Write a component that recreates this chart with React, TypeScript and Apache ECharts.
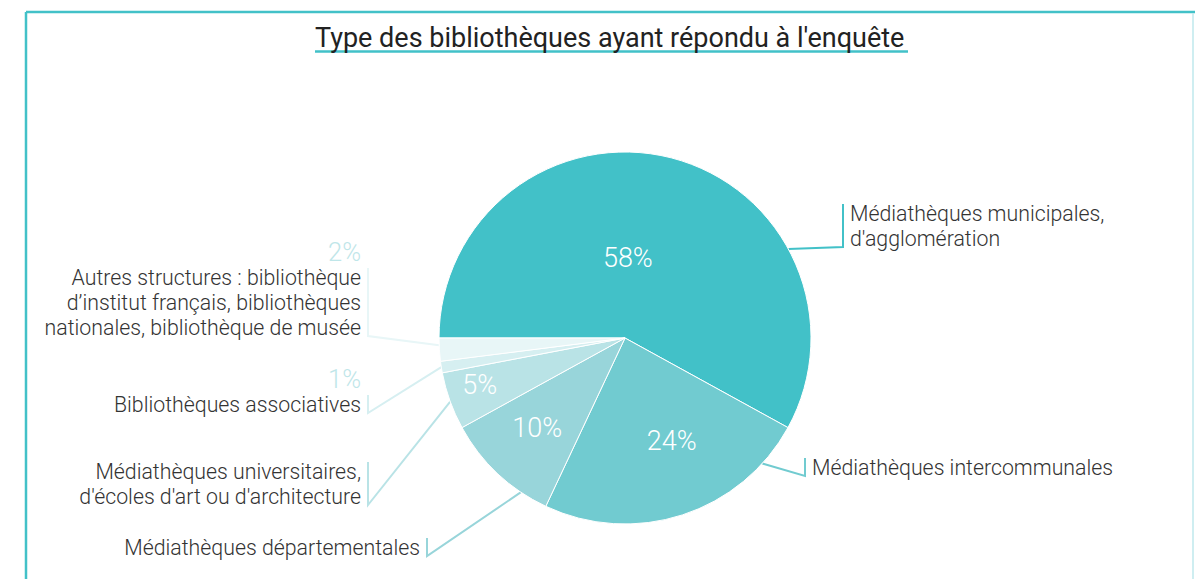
import React, { useEffect, useRef } from "react";
import * as echarts from "echarts";

// ---- data ----
const TITLE = "Type des bibliothèques ayant répondu à l'enquête";
const categories = [
  "Médiathèques municipales,\nd'agglomération",
  "Médiathèques intercommunales",
  "Médiathèques départementales",
  "Médiathèques universitaires,\nd'écoles d'art ou d'architecture",
  "Bibliothèques associatives",
  "Autres structures : bibliothèque\nd’institut français, bibliothèques\nnationales, bibliothèque de musée",
];
const values = [58, 24, 10, 5, 1, 2];

// ---- styles / layout ----
const COLORS = ["#42c1c8", "#71cbd0", "#98d5da", "#b9e3e6", "#d6eff1", "#e8f6f7"];
const CX = 625;
const CY = 338;
const R = 186;
const PCT_LINE = 26;
// label anchor: x (text edge), y (text top), side of the pie
const LABEL_LAYOUT = [
  { x: 850, y: 201, side: "right" },
  { x: 812, y: 455, side: "right" },
  { x: 420, y: 535, side: "left" },
  { x: 361, y: 459, side: "left" },
  { x: 361, y: 366, side: "left" },
  { x: 361, y: 239, side: "left" },
];
// where each leader line leaves the pie (degrees, math convention)
const ANCHOR_DEG = [28.6, -42.4, -124, -160, -171, -177.8];
// nudges for the inside percentage labels
const INNER_OFFSETS = [
  [-21, 13],
  [17, 12],
  [-22, 20],
  [-55, 14],
  [0, 0],
  [0, 0],
];
const FONT = "Roboto";

export default function App() {
  const ref = useRef<HTMLDivElement>(null);
  useEffect(() => {
    document.body.style.margin = "0";
    const chart = echarts.init(ref.current!, null, { renderer: "svg" });

    const outerData = values.map((v, i) => ({
      name: categories[i],
      value: v,
      itemStyle: { color: COLORS[i] },
    }));
    const innerData = values.map((v, i) => ({
      name: categories[i],
      value: v,
      label: { show: v >= 5, offset: INNER_OFFSETS[i] },
    }));

    chart.setOption({
      animation: false,
      title: {
        text: TITLE,
        left: 315,
        top: 24,
        padding: 0,
        textStyle: { fontFamily: FONT, fontSize: 27, fontWeight: 400, color: "#222" },
      },
      graphic: [
        { type: "line", shape: { x1: 26, y1: 12, x2: 1195, y2: 12 }, style: { stroke: "#42c1c8", lineWidth: 2.5 }, silent: true },
        { type: "line", shape: { x1: 26, y1: 12, x2: 26, y2: 579 }, style: { stroke: "#42c1c8", lineWidth: 2.5 }, silent: true },
        { type: "line", shape: { x1: 1193, y1: 13, x2: 1193, y2: 579 }, style: { stroke: "#bfe9ec", lineWidth: 1.5 }, silent: true },
        { type: "line", shape: { x1: 315, y1: 51.5, x2: 908, y2: 51.5 }, style: { stroke: "#42c1c8", lineWidth: 2.5 }, silent: true },
      ],
      series: [
        {
          type: "pie",
          center: [CX, CY],
          radius: R,
          startAngle: 180,
          clockwise: true,
          avoidLabelOverlap: false,
          silent: true,
          itemStyle: { borderColor: "#ffffff", borderWidth: 1 },
          data: outerData,
          label: {
            show: true,
            position: "outside",
            fontFamily: FONT,
            fontSize: 21.3,
            fontWeight: 300,
            color: "#333",
            lineHeight: 25,
            formatter: (p: any) => {
              const v = values[p.dataIndex];
              const name = categories[p.dataIndex];
              return v < 5 ? `{p|${v}%}\n{n|${name}}` : `{n|${name}}`;
            },
            rich: {
              p: { fontFamily: FONT, fontSize: 25.5, fontWeight: 300, color: "#bfe6e9", lineHeight: PCT_LINE },
              n: { fontFamily: FONT, fontSize: 21.3, fontWeight: 300, color: "#333", lineHeight: 25 },
            },
          },
          labelLine: { show: true, length: 10, length2: 10, lineStyle: { width: 2 } },
          labelLayout: (p: any) => {
            const i = p.dataIndex;
            const L = LABEL_LAYOUT[i];
            const onRight = L.side === "right";
            const h = p.labelRect.height;
            const bx = onRight ? L.x - 7 : L.x + 7;
            const pctH = values[i] < 5 ? PCT_LINE : 0;
            const y0 = L.y + pctH + 3;
            const y1 = L.y + h - 4;
            const a = (ANCHOR_DEG[i] * Math.PI) / 180;
            const ax = CX + R * Math.cos(a);
            const ay = CY - R * Math.sin(a);
            return {
              x: L.x,
              y: L.y,
              align: onRight ? "left" : "right",
              verticalAlign: "top",
              labelLinePoints: [
                [ax, ay],
                [bx, y1],
                [bx, y0],
              ],
            };
          },
        },
        {
          type: "pie",
          center: [CX, CY],
          radius: R,
          startAngle: 180,
          clockwise: true,
          silent: true,
          avoidLabelOverlap: false,
          itemStyle: { color: "rgba(0,0,0,0)", borderWidth: 0 },
          data: innerData,
          label: {
            position: "inside",
            fontFamily: FONT,
            fontSize: 27,
            fontWeight: 300,
            color: "#ffffff",
            formatter: (p: any) => `${values[p.dataIndex]}%`,
          },
          labelLine: { show: false },
        },
      ],
    });
    return () => chart.dispose();
  }, []);
  return <div ref={ref} style={{ width: 1195, height: 579 }} />;
}
